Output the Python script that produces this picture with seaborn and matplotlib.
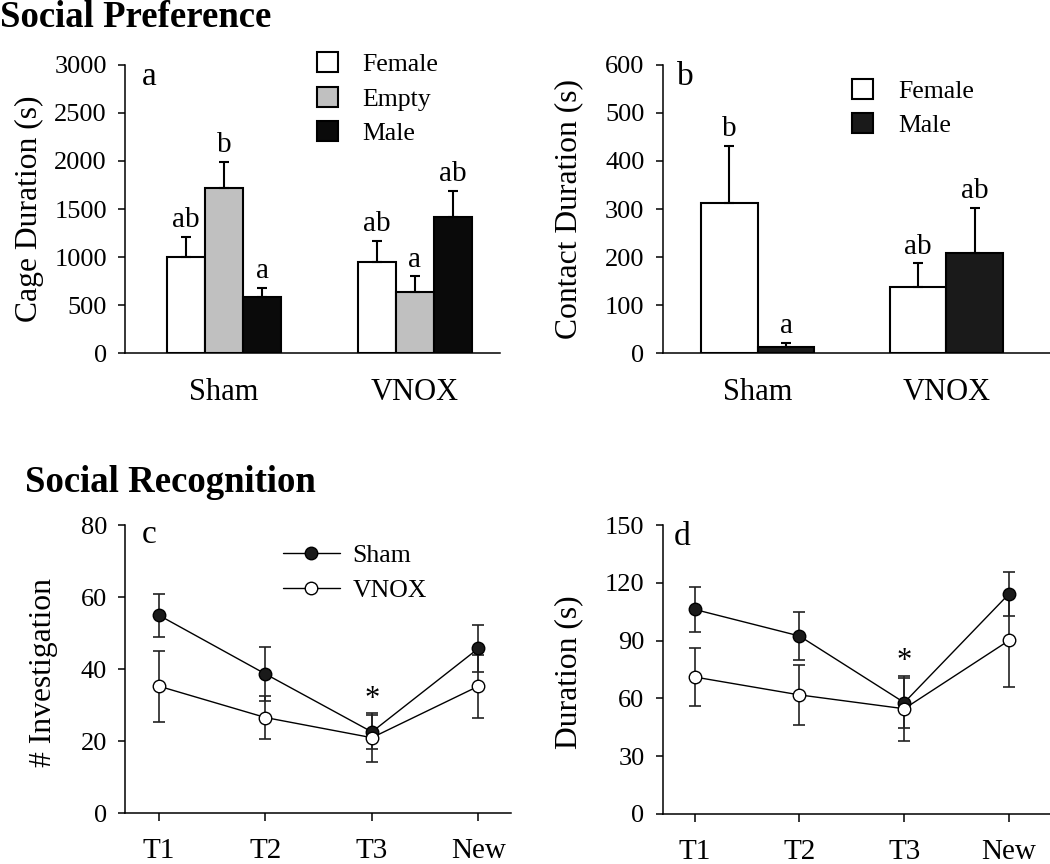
import numpy as np
import pandas as pd
import seaborn as sns
import matplotlib.pyplot as plt
from matplotlib.container import BarContainer

# Panel a - cage duration
groups = ['Sham', 'VNOX']
stims_a = ['Female', 'Empty', 'Male']
cage_mean = [1000, 1720, 590, 950, 640, 1420]
cage_sem = [210, 270, 90, 220, 160, 270]
cage_letters = ['ab', 'b', 'a', 'ab', 'a', 'ab']

# Panel b - contact duration
stims_b = ['Female', 'Male']
contact_mean = [313, 14, 139, 208]
contact_sem = [119, 8, 48, 95]
contact_letters = ['b', 'a', 'ab', 'ab']

# Panels c/d - social recognition
trials = ['T1', 'T2', 'T3', 'New']
sham_inv = [55.0, 38.7, 22.6, 45.8]
sham_inv_sem = [6.0, 7.6, 4.7, 6.5]
vnox_inv = [35.3, 26.6, 21.0, 35.3]
vnox_inv_sem = [9.9, 6.0, 6.8, 8.8]
sham_dur = [106.2, 92.4, 57.8, 114.3]
sham_dur_sem = [11.8, 12.4, 13.0, 11.5]
vnox_dur = [71.1, 61.8, 54.6, 90.1]
vnox_dur_sem = [15.0, 15.5, 17.0, 24.0]

sns.set_style('ticks')
plt.rcParams['font.family'] = ['Liberation Serif', 'DejaVu Serif']
plt.rcParams['axes.linewidth'] = 1.1
plt.rcParams['xtick.major.width'] = 1.1
plt.rcParams['ytick.major.width'] = 1.1
for key in ['text.color', 'axes.labelcolor', 'xtick.color', 'ytick.color',
            'axes.edgecolor']:
    plt.rcParams[key] = 'black'

fig = plt.figure(figsize=(10.5, 8.64), dpi=100)
ax_a = fig.add_axes([0.119, 0.591, 0.357, 0.334])
ax_b = fig.add_axes([0.631, 0.591, 0.369, 0.334])
ax_c = fig.add_axes([0.119, 0.0587, 0.368, 0.3333])
ax_d = fig.add_axes([0.631, 0.058, 0.369, 0.3343])

TICK = 19
LAB = 22.8
LEG = dict(title=None, frameon=False, fontsize=18.5, handlelength=0.82,
           handleheight=0.8, handletextpad=0.95, labelspacing=0.42,
           borderaxespad=0, borderpad=0)


def bar_panel(ax, stims, means, sems, letters, colors, ymax, step, ylabel, xlim):
    df = pd.DataFrame({'group': np.repeat(groups, len(stims)),
                       'stim': stims * len(groups),
                       'value': means})
    sns.barplot(data=df, x='group', y='value', hue='stim', hue_order=stims,
                palette=colors, edgecolor='black', linewidth=1.5, width=0.6,
                errorbar=None, ax=ax)
    # error bars and letters, read back from the bars seaborn drew
    bar_sets = [c for c in ax.containers if isinstance(c, BarContainer)]
    for i, cont in enumerate(bar_sets):
        for j, bar in enumerate(cont):
            k = j * len(stims) + i
            x = bar.get_x() + bar.get_width() / 2
            top = bar.get_height()
            ax.errorbar(x, top, yerr=[[0], [sems[k]]], fmt='none', ecolor='black',
                        elinewidth=1.5, capsize=3.8, capthick=1.5, zorder=1)
            ax.annotate(letters[k], xy=(x, top + sems[k]), xytext=(0, 7),
                        textcoords='offset points', ha='center', va='baseline',
                        fontsize=21)
    ax.set_ylim(0, ymax)
    ax.set_yticks(np.arange(0, ymax + 1, step))
    ax.set_xlim(*xlim)
    ax.set_xlabel('')
    ax.set_ylabel(ylabel, fontsize=LAB)
    ax.tick_params(axis='y', labelsize=TICK, length=5, pad=8)
    ax.tick_params(axis='x', labelsize=22, length=0, pad=18)
    sns.despine(ax=ax)


bar_panel(ax_a, stims_a, cage_mean, cage_sem, cage_letters,
          ['white', '#c0c0c0', '#0a0a0a'], 3000, 500, 'Cage Duration (s)',
          (-0.518, 1.445))
sns.move_legend(ax_a, 'upper left', bbox_to_anchor=(0.512, 1.043), **LEG)
ax_a.yaxis.set_label_coords(-0.217, 0.5)
ax_a.text(0.0445, 0.931, 'a', transform=ax_a.transAxes, fontsize=24, va='baseline')

bar_panel(ax_b, stims_b, contact_mean, contact_sem, contact_letters,
          ['white', '#1a1a1a'], 600, 100, 'Contact Duration (s)',
          (-0.505, 1.55))
sns.move_legend(ax_b, 'upper left', bbox_to_anchor=(0.49, 0.951), **LEG)
ax_b.yaxis.set_label_coords(-0.204, 0.5)
ax_b.text(0.038, 0.931, 'b', transform=ax_b.transAxes, fontsize=24, va='baseline')


def line_panel(ax, sham, sham_sem, vnox, vnox_sem, ymax, step, ylabel, xlim, legend):
    xpos = np.arange(len(trials))
    for vals, errs in [(sham, sham_sem), (vnox, vnox_sem)]:
        ax.errorbar(xpos, vals, yerr=errs, fmt='none', ecolor='#222222',
                    elinewidth=1.2, capsize=4.3, capthick=1.2, zorder=2)
    sns.lineplot(x=xpos, y=sham, color='black', linewidth=1.0, marker='o',
                 markersize=9, markerfacecolor='#1a1a1a', markeredgecolor='black',
                 markeredgewidth=1.0, errorbar=None, sort=False,
                 label='Sham' if legend else None, ax=ax, zorder=3)
    sns.lineplot(x=xpos, y=vnox, color='black', linewidth=1.0, marker='o',
                 markersize=9, markerfacecolor='white', markeredgecolor='black',
                 markeredgewidth=1.0, errorbar=None, sort=False,
                 label='VNOX' if legend else None, ax=ax, zorder=4)
    ax.annotate('*', xy=(2, sham[2] + sham_sem[2]), xytext=(0, 6),
                textcoords='offset points', ha='center', va='baseline', fontsize=22)
    ax.set_ylim(0, ymax)
    ax.set_yticks(np.arange(0, ymax + 1, step))
    ax.set_xticks(xpos, trials)
    ax.set_xlim(*xlim)
    ax.set_ylabel(ylabel, fontsize=LAB)
    ax.tick_params(axis='y', labelsize=TICK, length=5, pad=8)
    ax.tick_params(axis='x', labelsize=21, length=6, pad=12)
    sns.despine(ax=ax)
    if legend:
        ax.legend(loc='upper left', bbox_to_anchor=(0.409, 0.935), frameon=False,
                  fontsize=18.5, handlelength=2.2, handletextpad=0.5,
                  labelspacing=0.45, borderaxespad=0, borderpad=0)
    elif ax.get_legend() is not None:
        ax.get_legend().remove()


line_panel(ax_c, sham_inv, sham_inv_sem, vnox_inv, vnox_inv_sem, 80, 20,
           '# Investigation', (-0.32, 3.31), True)
ax_c.yaxis.set_label_coords(-0.173, 0.49)
ax_c.text(0.044, 0.937, 'c', transform=ax_c.transAxes, fontsize=24, va='baseline')

line_panel(ax_d, sham_dur, sham_dur_sem, vnox_dur, vnox_dur_sem, 150, 30,
           'Duration (s)', (-0.305, 3.39), False)
ax_d.yaxis.set_label_coords(-0.206, 0.49)
ax_d.text(0.029, 0.931, 'd', transform=ax_d.transAxes, fontsize=24, va='baseline')

fig.text(0.0, 0.969, 'Social Preference', fontsize=26.5, fontweight='bold',
         va='baseline')
fig.text(0.0238, 0.431, 'Social Recognition', fontsize=26.5, fontweight='bold',
         va='baseline')

fig.savefig('out.png', dpi=100)
